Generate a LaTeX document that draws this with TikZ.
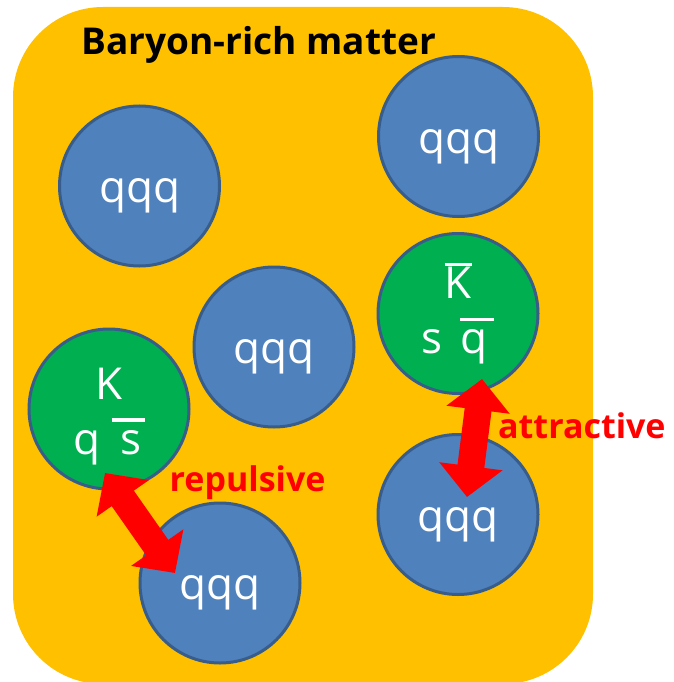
\documentclass[tikz,border=0pt]{standalone}
\usepackage{fontspec}
\setmainfont{Open Sans}
\usetikzlibrary{arrows.meta}

\definecolor{matterorange}{RGB}{255,192,0}
\definecolor{baryonblue}{RGB}{79,129,189}
\definecolor{kaongreen}{RGB}{0,176,80}
\definecolor{ringblue}{RGB}{56,93,138}

% bar over an antiquark / antikaon
\newcommand{\antibar}[1]{\leavevmode\vbox{\hrule height 3.5pt\kern 1.5pt\hbox{\vphantom{K}#1}}}

\begin{document}
\begin{tikzpicture}[
    x=1pt, y=-1pt,
    disc/.style={circle, draw=ringblue, line width=3pt, minimum size=160pt,
                 inner sep=0pt, text=white, font=\fontsize{44}{55}\selectfont},
    baryon/.style={disc, fill=baryonblue, text height=33pt, text depth=0pt},
    kaon/.style={disc, fill=kaongreen, align=center},
    dbl/.style={<->, >={Triangle[length=31pt, width=62pt]},
                line width=27pt, draw=red},
    force/.style={text=red, font=\fontsize{34}{40}\selectfont\bfseries,
                  inner sep=0pt, anchor=base west},
]
    \useasboundingbox (0,0) rectangle (673,682);

    % Matter
    \fill[matterorange, rounded corners=90pt] (13,7) rectangle (593,684);
    \node[anchor=base west, inner sep=0pt,
          font=\fontsize{37}{44}\selectfont\bfseries] (title) at (81,55) {Baryon-rich matter};

    % Baryons
    \foreach \nm/\x/\y in {q1/139.5/186, q2/458.5/136.5, q3/274/347, q4/220/583, q5/458/514.5} {
        \node[baryon] (\nm) at (\x,\y) {qqq};
    }

    % Kaons
    \node[kaon] (kl) at (109,409) {\rule{0pt}{47pt}K\\q \antibar{\kern9pt s\kern3pt}};
    \node[kaon] (kr) at (458,313.5) {\antibar{K}\\s\hspace{6pt} \antibar{q\kern7pt}};

    % Interactions
    \draw[dbl] ([shift={(-4,64)}]kl.center) -- ([shift={(-45,-10)}]q4.center);
    \draw[dbl] ([shift={(24,65.5)}]kr.center) -- ([shift={(9,-17.5)}]q5.center);

    \node[force] (rep) at (169.5,491) {repulsive};
    \node[force] (att) at (498,438) {attractive};
\end{tikzpicture}
\end{document}
